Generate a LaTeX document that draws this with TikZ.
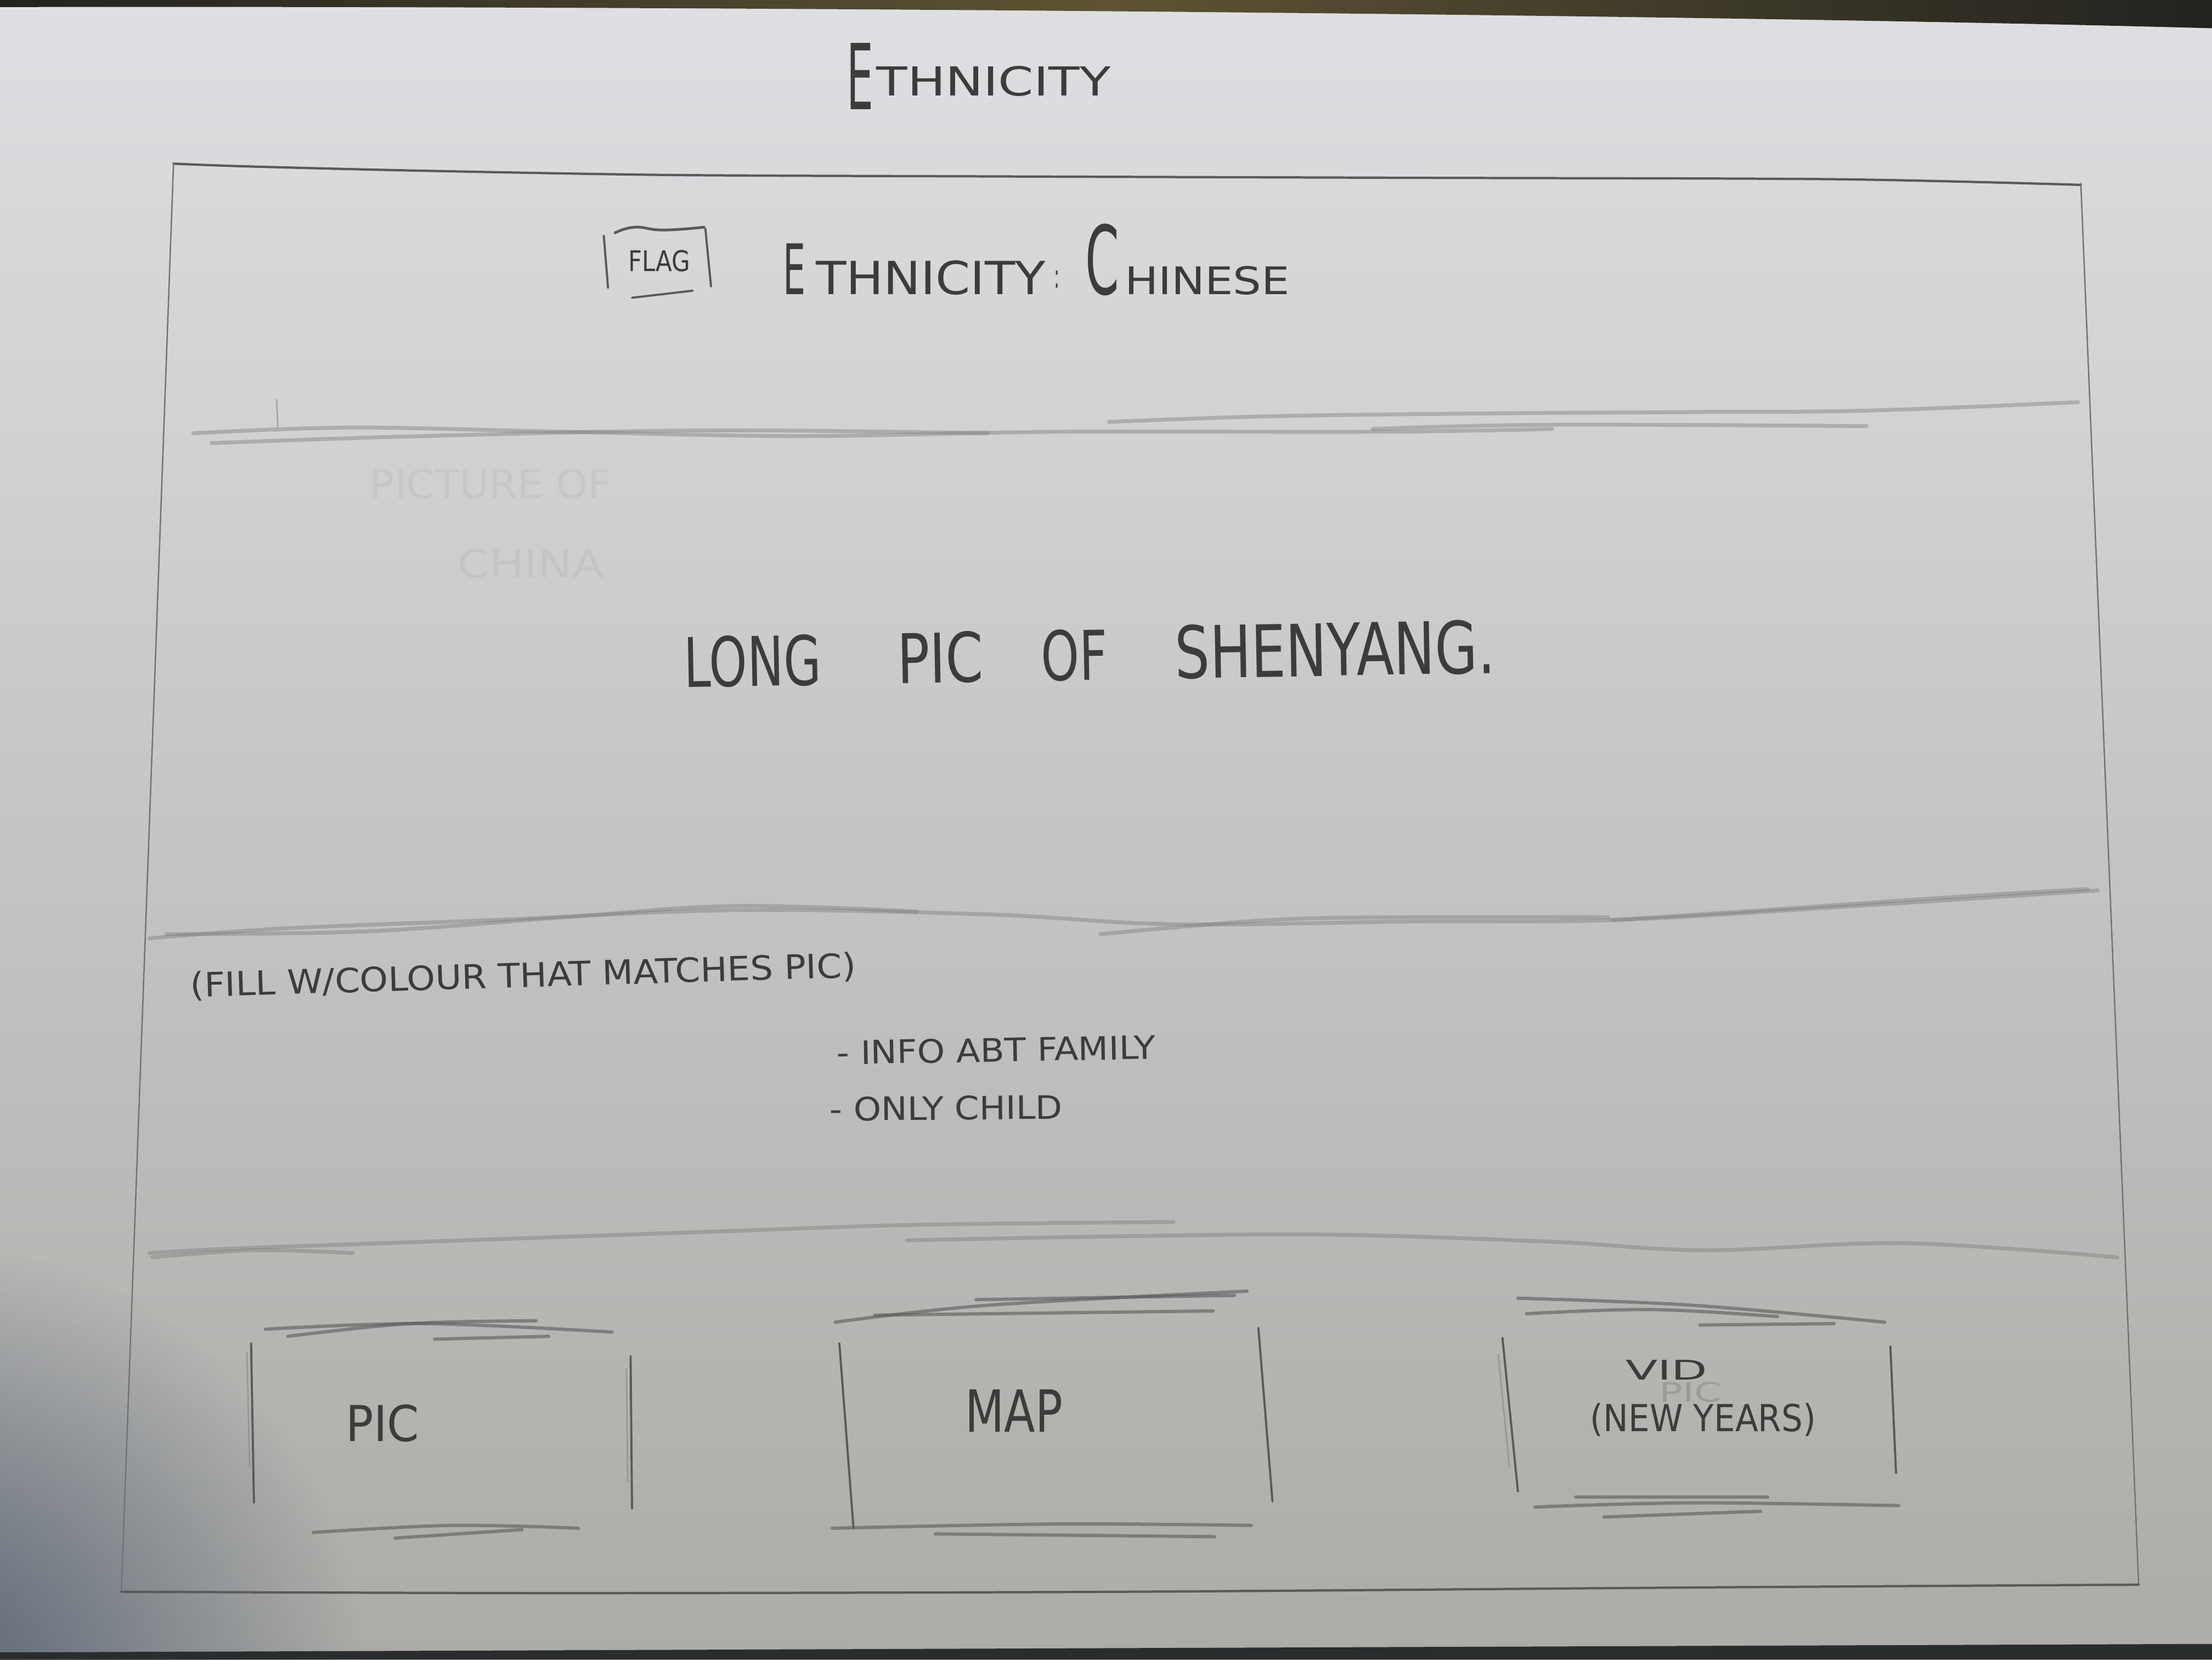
\documentclass[tikz,border=0pt]{standalone}
\usepackage{fontspec}
\usepackage{graphicx}
\usetikzlibrary{fadings}
\newfontfamily\hand{DejaVu Sans}
% one unit of the drawing grid, used to size the lettering
\newlength\pxu
\setlength\pxu{0.729pt}
% hand lettering squeezed into a given width and cap height
\newcommand\hw[3]{\resizebox{#1\pxu}{#2\pxu}{\hand #3}}
\definecolor{papertop}{HTML}{DEDFE2}
\definecolor{papermid}{HTML}{CDCDCB}
\definecolor{paperbot}{HTML}{ACABA7}
\definecolor{graphite}{HTML}{3C3C3C}
\definecolor{pencil}{HTML}{5A5A5A}
\definecolor{pencilsoft}{HTML}{808080}
\definecolor{shadowblue}{HTML}{4C596C}
\definecolor{deskdark}{HTML}{22221F}
\definecolor{deskgold}{HTML}{5E5434}
\tikzfading[name=softspot, inner color=transparent!0, outer color=transparent!100]
\tikzset{
  frameline/.style={draw=pencil!85, line width=0.7pt, line cap=round},
  frametop/.style={draw=pencil, line width=1.2pt, line cap=round},
  divider/.style={draw=pencilsoft, line width=2.0pt, line cap=round, draw opacity=0.45},
  scrib/.style={draw=pencil, line width=1.7pt, line cap=round, draw opacity=0.6},
  side/.style={draw=pencil, line width=1.1pt, line cap=round},
  sidefaint/.style={draw=pencilsoft, line width=0.8pt, line cap=round, draw opacity=0.5},
  lettering/.style={inner sep=0pt, anchor=south west, text=graphite},
  ghost/.style={inner sep=0pt, anchor=south west, text=graphite, text opacity=0.06}
}
\begin{document}
\begin{tikzpicture}[x=0.729pt, y={(0pt,-0.729pt)}]
\useasboundingbox (0,0) rectangle (1568,1176);

% paper and desk
\shade[top color=papertop, middle color=papermid, bottom color=paperbot] (0,0) rectangle (1568,1176);
\fill[shadowblue, path fading=softspot, fill opacity=0.9] (-60,1200) ellipse [x radius=320, y radius=320];
\shade[left color=deskdark, right color=deskdark, middle color=deskgold]
  (0,0) -- (1568,0) -- (1568,20) .. controls (1200,10) and (500,4) .. (0,5) -- cycle;
\fill[deskdark!80!shadowblue] (0,1176) -- (0,1171) -- (1568,1165) -- (1568,1176) -- cycle;

% page title
\node[lettering] (title) at (600,78)
  {\hw{19}{47}{E}\hspace{2\pxu}\raisebox{10\pxu}{\hw{166}{21}{THNICITY}}};

% outer frame of the page layout
\coordinate (ftl) at (123,116);
\coordinate (ftr) at (1475,130);
\coordinate (fbl) at (86,1128);
\coordinate (fbr) at (1516,1123);
\draw[frametop] plot[smooth, tension=0.5] coordinates
  {(123,116) (178,118) (300,121) (475,124) (700,125) (1000,126) (1300,127) (1475,131)};
\draw[frameline] (ftl) -- (fbl);
\draw[frameline] (ftr) -- (fbr);
\draw[frametop] plot[smooth, tension=0.5] coordinates
  {(86,1128) (400,1129) (800,1128) (1200,1125) (1516,1123)};

% header: flag and heading
\draw[side] (428,167) -- (431,204);
\draw[side] (500,162) -- (504,203);
\draw[side, line width=1.4pt] plot[smooth, tension=0.8] coordinates {(436,165) (450,161) (470,163) (499,161)};
\draw[side] (448,211) -- (491,206);
\node[lettering] (flag) at (445,193) {\hw{44}{15}{FLAG}};
\node[lettering] (heading) at (555,210)
  {\hw{16}{36}{E}\hspace{7\pxu}\hw{163}{24}{THNICITY}\hspace{6\pxu}\raisebox{5\pxu}{\hw{4}{12}{:}}\hspace{18\pxu}%
   \hw{24}{50}{C}\hspace{4\pxu}\hw{117}{20}{HINESE}};

% divider under the header
\draw[divider] plot[smooth, tension=0.6] coordinates
  {(137,307) (250,303) (400,306) (568,309) (750,306) (973,306) (1100,304)};
\draw[divider] plot[smooth, tension=0.6] coordinates
  {(150,314) (300,309) (500,305) (700,307)};
\draw[divider] plot[smooth, tension=0.6] coordinates
  {(786,299) (900,295) (1050,293) (1200,292) (1323,291) (1473,285)};
\draw[divider] plot[smooth, tension=0.6] coordinates
  {(973,304) (1100,301) (1323,302)};
\draw[sidefaint] (196,283) -- (197,303);

% banner picture
\node[ghost] (ghostA) at (262,354) {\hw{171}{21}{PICTURE OF}};
\node[ghost] (ghostB) at (324,410) {\hw{104}{20}{CHINA}};
\node[lettering, rotate=1] (banner) at (485,488)
  {\hw{97}{36}{LONG}\hspace{54\pxu}\hw{61}{36}{PIC}\hspace{41\pxu}\hw{47}{36}{OF}\hspace{48\pxu}\hw{227}{38}{SHENYANG.}};

% divider under the banner
\draw[divider] plot[smooth, tension=0.6] coordinates
  {(106,665) (200,658) (350,652) (521,645) (700,648) (832,655) (1000,653) (1143,652) (1300,643) (1487,631)};
\draw[divider] plot[smooth, tension=0.6] coordinates
  {(118,662) (260,660) (400,650) (521,642) (650,646)};
\draw[divider] plot[smooth, tension=0.6] coordinates
  {(780,662) (900,652) (1000,650) (1140,650)};
\draw[divider] plot[smooth, tension=0.6] coordinates
  {(1143,652) (1250,645) (1380,636) (1480,630)};

% family section
\node[lettering, rotate=1.7] (fillnote) at (135,710)
  {\hw{472}{18}{(FILL W/COLOUR THAT MATCHES PIC)}};
\node[lettering, rotate=1] (infofamily) at (593,755) {\hw{226}{17}{- INFO ABT FAMILY}};
\node[lettering, rotate=0.5] (onlychild) at (588,795) {\hw{165}{17}{- ONLY CHILD}};

% divider above the media row
\draw[divider] plot[smooth, tension=0.6] coordinates
  {(106,888) (160,885) (300,880) (500,873) (650,868) (832,866)};
\draw[divider] plot[smooth, tension=0.6] coordinates
  {(643,879) (800,876) (944,875) (1100,880) (1209,886) (1350,881) (1501,891)};
\draw[divider] plot[smooth, tension=0.6] coordinates
  {(108,891) (180,886) (250,888)};

% media box: picture
\draw[scrib] plot[smooth, tension=0.6] coordinates {(188,942) (300,938) (434,944)};
\draw[scrib] plot[smooth, tension=0.6] coordinates {(204,947) (290,938) (380,936)};
\draw[scrib] (308,949) -- (389,947);
\draw[side] (178,952) -- (180,1065);
\draw[sidefaint] (175,958) -- (177,1040);
\draw[side] (447,961) -- (448,1069);
\draw[sidefaint] (444,970) -- (445,1050);
\draw[scrib] plot[smooth, tension=0.6] coordinates {(222,1086) (320,1081) (410,1083)};
\draw[scrib] (280,1090) -- (370,1084);
\node[lettering] (pic) at (245,1022) {\hw{52}{26}{PIC}};

% media box: map
\draw[scrib] plot[smooth, tension=0.6] coordinates {(592,937) (700,925) (884,915)};
\draw[scrib] (692,921) -- (875,918);
\draw[scrib] (620,932) -- (860,929);
\draw[side] (595,952) -- (605,1083);
\draw[side] (892,941) -- (902,1064);
\draw[scrib] plot[smooth, tension=0.6] coordinates {(590,1083) (750,1080) (887,1081)};
\draw[scrib] (663,1087) -- (861,1089);
\node[lettering] (map) at (684,1015) {\hw{69}{30}{MAP}};

% media box: video
\draw[scrib] plot[smooth, tension=0.6] coordinates {(1076,920) (1200,925) (1336,937)};
\draw[scrib] plot[smooth, tension=0.6] coordinates {(1082,931) (1170,928) (1260,933)};
\draw[scrib] (1205,939) -- (1300,938);
\draw[side] (1065,948) -- (1076,1057);
\draw[sidefaint] (1062,960) -- (1070,1040);
\draw[side] (1340,954) -- (1344,1044);
\draw[scrib] plot[smooth, tension=0.6] coordinates {(1088,1068) (1200,1065) (1346,1067)};
\draw[scrib] (1117,1061) -- (1253,1061);
\draw[scrib] (1137,1075) -- (1248,1071);
\node[ghost, text opacity=0.2] (ghostpic) at (1176,994) {\hw{44}{14}{PIC}};
\node[lettering] (vid) at (1152,978) {\hw{58}{14}{VID}};
\node[lettering] (newyears) at (1127,1018) {\hw{160}{20}{(NEW YEARS)}};

\end{tikzpicture}
\end{document}
